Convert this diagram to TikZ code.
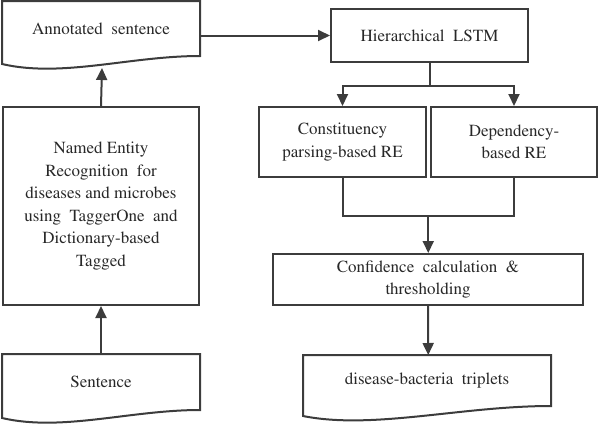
\documentclass[tikz,border=0pt]{standalone}
\usepackage[T1]{fontenc}
\usepackage{times}
\usetikzlibrary{arrows.meta,calc}
\definecolor{linec}{RGB}{60,60,60}
\definecolor{textc}{RGB}{40,40,40}
\begin{document}
\begin{tikzpicture}[x=1pt,y=-1pt,
  box/.style={draw=linec,line width=2pt,rectangle,align=center,inner sep=2pt,
    text=textc,font=\fontsize{17}{22.5}\selectfont},
  docbox/.style={box,draw=none},
  docline/.style={draw=linec,line width=2pt},
  conn/.style={draw=linec,line width=2pt},
  arr/.style={conn,-{Triangle[length=12pt,width=11pt]}}]
\useasboundingbox (0,0) rectangle (600,426);

% nodes
\node[docbox,minimum width=196pt,minimum height=53pt] (ann) at (101,28.5) {Annotated\ \ sentence};
\node[box,minimum width=196pt,minimum height=198pt] (ner) at (101,206)
  {Named Entity\\Recognition\ \ for\\diseases and microbes\\using\ \ TaggerOne\ \ and\\Dictionary-based\\Tagged};
\node[docbox,minimum width=196pt,minimum height=54pt] (sent) at (101,382) {Sentence};
\node[box,minimum width=197pt,minimum height=53pt] (hier) at (429.5,35.5) {Hierarchical\ \ LSTM};
\node[box,minimum width=167pt,minimum height=70pt] (cons) at (342.5,142) {Constituency\\parsing-based RE};
\node[box,minimum width=166pt,minimum height=70pt] (dep) at (514,142) {Dependency-\\based RE};
\node[box,minimum width=310pt,minimum height=51pt] (conf) at (428,279.5) {Confidence\ \ calculation\ \ \&\\thresholding};
\node[docbox,minimum width=246pt,minimum height=49pt] (dis) at (427,380.5) {disease-bacteria\ \ triplets};

% document outlines
\draw[docline] (ann.north west) -- (ann.north east) -- (ann.south east)
  .. controls +(-70,0) and +(60,14) .. ($(ann.south west)+(0,8)$) -- cycle;
\draw[docline] (sent.north west) -- (sent.north east) -- (sent.south east)
  .. controls +(-70,0) and +(60,14) .. ($(sent.south west)+(0,8)$) -- cycle;
\draw[docline] (dis.north west) -- (dis.north east) -- (dis.south east)
  .. controls +(-90,0) and +(70,14) .. ($(dis.south west)+(0,10)$) -- cycle;

% connectors
\coordinate (annbot) at ($(ann.south)+(1,12)$);
\draw[arr] (ner.north) -- (annbot);
\draw[arr] (sent.north) -- (ner.south);
\draw[arr] (hier.west -| ann.east) -- (hier.west);
\draw[conn] (hier.south) -- ++(0,23) coordinate (split);
\draw[arr] (split) -| (cons.north);
\draw[arr] (split) -| (dep.north);
\coordinate (join) at ($(cons.south)!0.5!(dep.south)+(0,38)$);
\draw[conn] (cons.south) |- (join) -| (dep.south);
\draw[arr] (join) -- (join |- conf.north);
\draw[arr] (conf.south) -- (join |- dis.north);
\end{tikzpicture}
\end{document}
